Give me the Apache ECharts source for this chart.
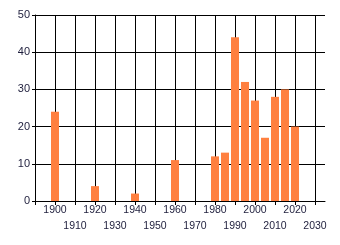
<!DOCTYPE html>
<html><head><meta charset="utf-8">
<script src="https://cdn.jsdelivr.net/npm/echarts@6/dist/echarts.min.js"></script>
<style>html,body{margin:0;padding:0;background:#fff}#c{width:340px;height:245px}</style>
</head><body><div id="c"></div>
<script>
const years = [1900, 1920, 1940, 1960, 1980, 1985, 1990, 1995, 2000, 2005, 2010, 2015, 2020];
const values = [24, 4, 2, 11, 12, 13, 44, 32, 27, 17, 28, 30, 20];
const xMin = 1890, xMax = 2035, xStep = 10;
const yMin = 0, yMax = 50, yStep = 10;

const txt = '#1e1e3c';
const font = {fontFamily: 'Liberation Sans', fontSize: 10.5, color: txt};
const chart = echarts.init(document.getElementById('c'), null, {renderer: 'canvas'});
chart.setOption({
  animation: false,
  grid: {left: 35, right: 15, top: 15, bottom: 44},
  xAxis: [{
    type: 'value', min: xMin, max: xMax, interval: xStep, position: 'bottom',
    axisLine: {show: true, lineStyle: {color: '#000', width: 1}},
    axisTick: {show: true, length: 4, lineStyle: {color: '#000'}},
    splitLine: {show: true, showMinLine: false, showMaxLine: false, lineStyle: {color: '#000', width: 1}},
    axisLabel: Object.assign({margin: 4, showMaxLabel: false,
      formatter: v => (v % 20 === 0 && v !== xMin && v <= 2030) ? String(v) : ''}, font)
  }, {
    type: 'value', min: xMin, max: xMax, interval: xStep, position: 'bottom', offset: 16,
    axisLine: {show: false}, axisTick: {show: false}, splitLine: {show: false},
    axisLabel: Object.assign({margin: 4, showMaxLabel: false,
      formatter: v => (v % 20 === 10 && v !== xMin && v <= 2030) ? String(v) : ''}, font)
  }],
  yAxis: {
    type: 'value', min: yMin, max: yMax, interval: yStep,
    axisLine: {show: true, lineStyle: {color: '#000', width: 1}},
    axisTick: {show: true, length: 3, lineStyle: {color: '#000'}},
    splitLine: {show: true, lineStyle: {color: '#000', width: 1}},
    axisLabel: Object.assign({margin: 5}, font, {fontSize: 11})
  },
  series: [{
    type: 'bar', xAxisIndex: 0, barWidth: 8,
    itemStyle: {color: '#FF8040'},
    data: years.map((y, i) => [y, values[i]])
  }]
});
</script></body></html>
